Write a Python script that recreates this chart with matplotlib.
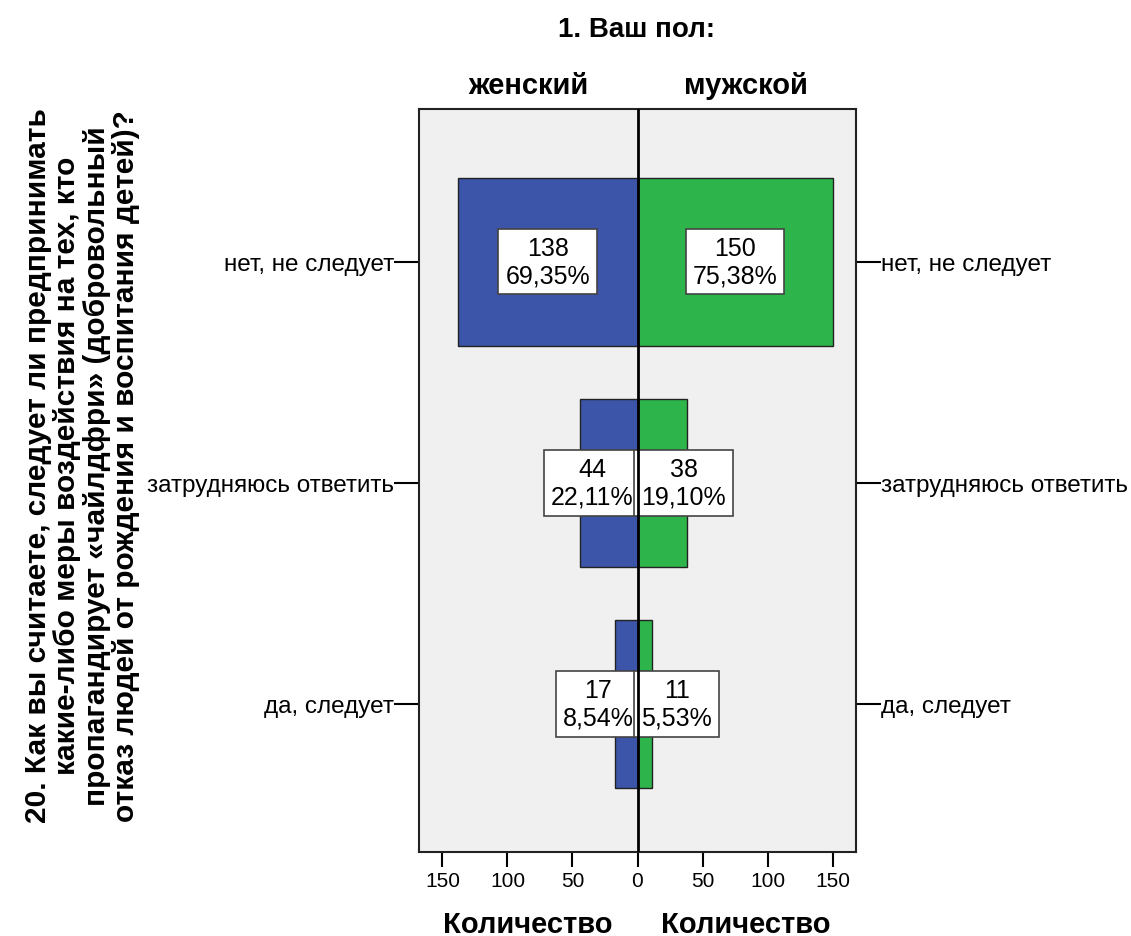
import numpy as np
import matplotlib.pyplot as plt

plt.rcParams['font.family'] = ['Liberation Sans', 'DejaVu Sans']

categories = ["да, следует", "затрудняюсь ответить", "нет, не следует"]
female = [17, 44, 138]
male = [11, 38, 150]
female_pct = ["8,54%", "22,11%", "69,35%"]
male_pct = ["5,53%", "19,10%", "75,38%"]
xticks = [-150, -100, -50, 0, 50, 100, 150]
xticklabels = ["150", "100", "50", "0", "50", "100", "150"]

blue = "#3c55a8"
green = "#2db54b"

W, H = 1131, 937
fig = plt.figure(figsize=(W / 100, H / 100), dpi=100)
ax = fig.add_axes([419 / W, (H - 853) / H, 437 / W, 743 / H])
ax.set_facecolor("#f0f0f0")

y = np.arange(len(categories))
bh = 0.76
ax.barh(y, [-v for v in female], height=bh, color=blue, edgecolor="#222222", lw=1)
ax.barh(y, male, height=bh, color=green, edgecolor="#222222", lw=1)
ax.axvline(0, color="black", lw=2, zorder=7)

box = dict(boxstyle="square,pad=0.28", fc="white", ec="#444444", lw=1.2)
lab = dict(va="center", fontsize=18, linespacing=1.2, bbox=box, zorder=6,
           multialignment="center")
for i in range(len(categories)):
    f, m = female[i], male[i]
    txt_f = f"{f}\n{female_pct[i]}"
    txt_m = f"{m}\n{male_pct[i]}"
    if f > 80:
        ax.text(-f / 2, i, txt_f, ha="center", **lab)
    else:
        ax.text(-3, i, txt_f, ha="right", **lab)
    if m > 80:
        ax.text(m / 2, i, txt_m, ha="center", **lab)
    else:
        ax.text(3, i, txt_m, ha="left", **lab)

ax.set_xlim(-168, 168)
ax.set_ylim(-0.67, 2.69)
ax.set_xticks(xticks)
ax.set_xticklabels(xticklabels, fontsize=15)
ax.set_yticks(y)
ax.set_yticklabels(categories, fontsize=17.5)
ax.tick_params(axis="y", left=True, right=True, labelleft=True, labelright=True,
               length=18, width=1.5, direction="out", pad=0)
ax.tick_params(axis="x", length=11, width=1.5, direction="out", pad=3)
for s in ax.spines.values():
    s.set_linewidth(1.5)
    s.set_color("#222222")

fig.text(637 / W, 1 - 30 / H, "1. Ваш пол:", ha="center", va="center",
         fontsize=20, fontweight="bold")
fig.text(528 / W, 1 - 86 / H, "женский", ha="center", va="center",
         fontsize=21, fontweight="bold")
fig.text(746 / W, 1 - 86 / H, "мужской", ha="center", va="center",
         fontsize=21, fontweight="bold")
fig.text(528 / W, 1 - 925 / H, "Количество", ha="center", va="center",
         fontsize=21, fontweight="bold")
fig.text(746 / W, 1 - 925 / H, "Количество", ha="center", va="center",
         fontsize=21, fontweight="bold")

ylabel = ("20. Как вы считаете, следует ли предпринимать\n"
          "какие-либо меры воздействия на тех, кто\n"
          "пропагандирует «чайлдфри» (добровольный\n"
          "отказ людей от рождения и воспитания детей)?")
fig.text(82 / W, 1 - 466 / H, ylabel, ha="center", va="center", rotation=90,
         fontsize=21.5, fontweight="bold", linespacing=1.05, multialignment="center")

fig.savefig("out.png", dpi=100)
